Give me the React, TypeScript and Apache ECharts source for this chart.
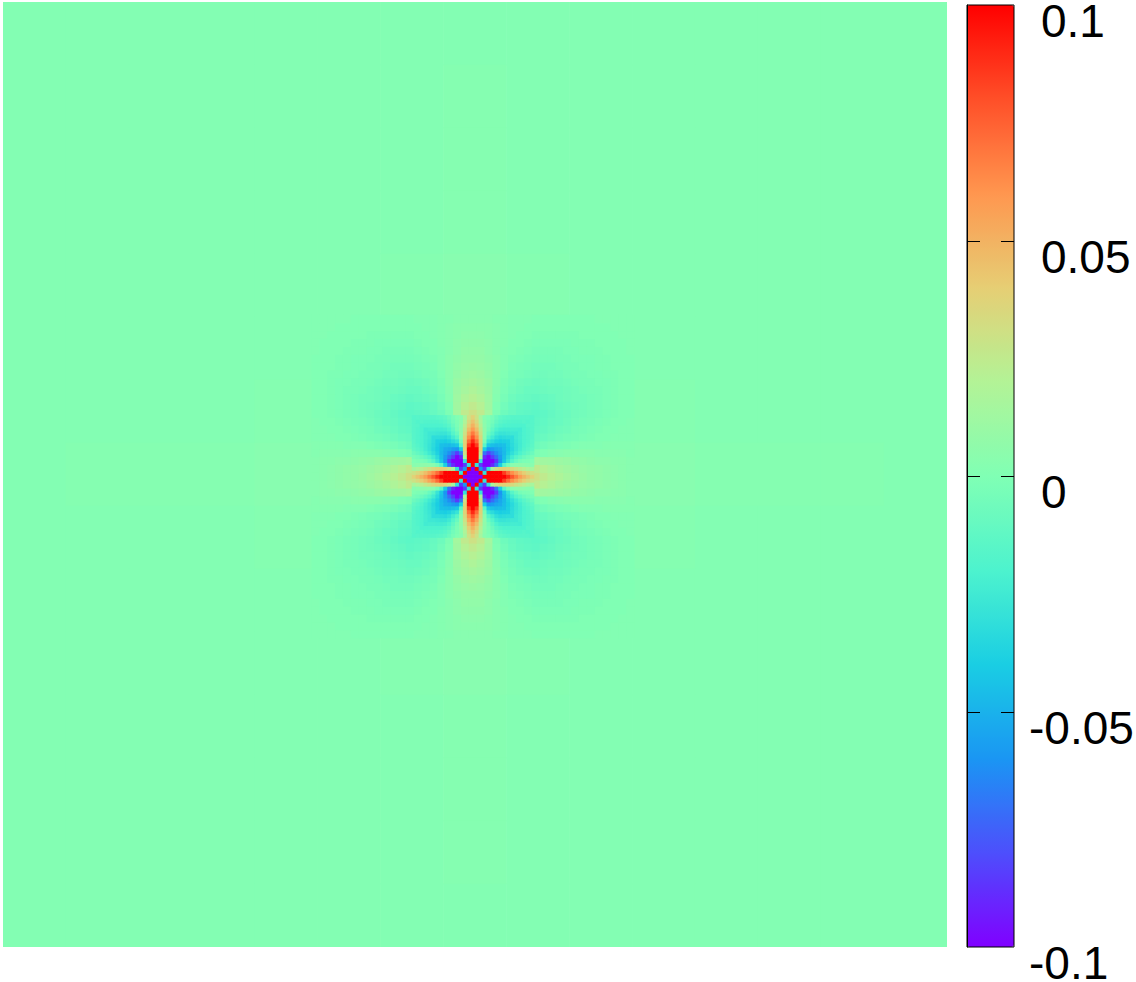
import React, { useEffect, useRef } from "react";
import * as echarts from "echarts";

const barTicks = [-0.1, -0.05, 0, 0.05, 0.1];
const palette = ["#8000ff","#4d4ffc","#1a96f3","#1acee3","#4df3ce","#80ffb4","#b3f396","#e6ce74","#ff964f","#ff4f28","#ff0000"];

// values in thousandths
const innerQuadrant = [
[-100,-100,-100,100,100,100,100,100,100,90,78,68,58,50,44,38],
[-100,-100,100,-30,100,100,100,100,85,72,62,54,46,40,34,30],
[-100,100,-60,-85,-30,15,30,38,40,38,34,30,26,22,18,15],
[100,-30,-85,-100,-100,-90,-70,-40,-15,-3,3,5,6,5,4,3],
[100,100,-30,-100,-100,-100,-85,-60,-42,-28,-16,-9,-4,-2,-1,0],
[100,100,15,-90,-100,-85,-72,-58,-45,-33,-24,-17,-12,-8,-5,-3],
[100,100,30,-70,-85,-72,-62,-54,-47,-38,-31,-25,-20,-15,-11,-8],
[100,100,38,-40,-60,-58,-54,-52,-46,-40,-34,-28,-23,-18,-15,-12],
[100,85,40,-15,-42,-45,-47,-46,-45,-39,-33,-28,-24,-20,-17,-14],
[90,72,38,-3,-28,-33,-38,-40,-39,-38,-32,-27,-24,-20,-18,-15],
[78,62,34,3,-16,-24,-31,-34,-33,-32,-32,-26,-23,-20,-18,-16],
[68,54,30,5,-9,-17,-25,-28,-28,-27,-26,-26,-23,-20,-18,-16],
[58,46,26,6,-4,-12,-20,-23,-24,-24,-23,-23,-24,-20,-18,-16],
[50,40,22,5,-2,-8,-15,-18,-20,-20,-20,-20,-20,-20,-17,-16],
[44,34,18,4,-1,-5,-11,-15,-17,-18,-18,-18,-18,-17,-18,-16],
[38,30,15,3,0,-3,-8,-12,-14,-15,-16,-16,-16,-16,-16,-17],
];
const midQuadrant = [
[0,0,0,0,0,0,0,0,30,25,21,18,15,12,10,8,7,6,5,4,3],
[0,0,0,0,0,0,0,0,25,21,18,15,13,11,9,8,7,6,5,4,3],
[0,0,0,0,0,0,0,0,14,13,12,11,10,8,7,6,5,5,4,4,3],
[0,0,0,0,0,0,0,0,-1,0,2,3,4,4,4,4,3,3,3,3,2],
[0,0,0,0,0,0,0,0,-7,-5,-3,-2,-1,0,1,1,1,2,2,2,2],
[0,0,0,0,0,0,0,0,-10,-9,-7,-5,-4,-3,-2,-1,0,0,1,1,1],
[0,0,0,0,0,0,0,0,-12,-11,-9,-7,-6,-4,-3,-2,-1,0,0,1,1],
[0,0,0,0,0,0,0,0,-13,-12,-10,-9,-7,-5,-4,-3,-2,-1,0,0,1],
[30,25,14,-1,-7,-10,-12,-13,-14,-13,-11,-9,-8,-6,-5,-4,-3,-2,-1,0,0],
[25,21,13,0,-5,-9,-11,-12,-13,-11,-10,-8,-7,-6,-5,-4,-3,-2,-1,0,0],
[21,18,12,2,-3,-7,-9,-10,-11,-10,-9,-7,-6,-5,-5,-4,-3,-2,-1,0,0],
[18,15,11,3,-2,-5,-7,-9,-9,-8,-7,-7,-6,-5,-4,-3,-3,-2,-1,0,0],
[15,13,10,4,-1,-4,-6,-7,-8,-7,-6,-6,-5,-4,-3,-3,-2,-2,-1,0,0],
[12,11,8,4,0,-3,-4,-5,-6,-6,-5,-5,-4,-3,-3,-2,-2,-1,-1,0,0],
[10,9,7,4,1,-2,-3,-4,-5,-5,-5,-4,-3,-3,-2,-2,-1,-1,0,0,0],
[8,8,6,4,1,-1,-2,-3,-4,-4,-4,-3,-3,-2,-2,-2,-1,-1,0,0,0],
[7,7,5,3,1,0,-1,-2,-3,-3,-3,-3,-2,-2,-1,-1,-1,0,0,0,1],
[6,6,5,3,2,0,0,-1,-2,-2,-2,-2,-2,-1,-1,-1,0,0,0,0,1],
[5,5,4,3,2,1,0,0,-1,-1,-1,-1,-1,-1,0,0,0,0,0,1,1],
[4,4,4,3,2,1,1,0,0,0,0,0,0,0,0,0,0,0,1,1,1],
[3,3,3,2,2,1,1,1,0,0,0,0,0,0,0,0,1,1,1,1,1],
];
const outerField = [
[1,1,1,1,1,1,1,1,1,1,1,1,1,1,1],
[1,1,1,1,1,1,1,2,1,1,1,1,1,1,1],
[1,1,1,1,1,1,1,2,1,1,1,1,1,1,1],
[1,1,1,1,1,1,1,2,1,1,1,1,1,1,1],
[1,1,1,1,1,1,2,3,2,1,1,1,1,1,1],
[1,1,1,1,1,1,1,3,1,1,1,1,1,1,1],
[1,1,1,1,2,1,1,3,1,1,2,1,1,1,1],
[1,2,2,2,3,3,3,1,3,3,3,2,2,2,1],
[1,1,1,1,2,1,1,3,1,1,2,1,1,1,1],
[1,1,1,1,1,1,1,3,1,1,1,1,1,1,1],
[1,1,1,1,1,1,2,3,2,1,1,1,1,1,1],
[1,1,1,1,1,1,1,2,1,1,1,1,1,1,1],
[1,1,1,1,1,1,1,2,1,1,1,1,1,1,1],
[1,1,1,1,1,1,1,2,1,1,1,1,1,1,1],
[1,1,1,1,1,1,1,1,1,1,1,1,1,1,1],
];

const CELLS = 240;
const CENTER = 119.5;

function buildCells() {
  const out: number[][] = [];
  outerField.forEach((row, r) => row.forEach((v, c) => out.push([c * 16, (14 - r) * 16, 16, v / 1000])));
  const mirror = (table: number[][], span: number) => {
    const n = table.length - 1;
    for (let r = -n; r <= n; r++) {
      for (let c = -n; c <= n; c++) {
        const v = table[Math.abs(r)][Math.abs(c)];
        out.push([CENTER + c * span - span / 2, CENTER + r * span - span / 2, span, v / 1000]);
      }
    }
  };
  mirror(midQuadrant, 2);
  mirror(innerQuadrant, 1);
  return out;
}

export default function App() {
  const ref = useRef<HTMLDivElement>(null);
  useEffect(() => {
    document.body.style.margin = "0";
    document.body.style.overflow = "hidden";
    const chart = echarts.init(ref.current!, undefined, { renderer: "svg" });
    const font = "'Liberation Sans', Arial, sans-serif";
    chart.setOption({
      animation: false,
      backgroundColor: "#ffffff",
      grid: [
        { left: 3, top: 2, width: 944, height: 945, outerBoundsMode: "none" },
        { left: 967, top: 5, width: 47, height: 942, show: true, borderColor: "#000", borderWidth: 1, backgroundColor: "transparent", z: 5, outerBoundsMode: "none" },
      ],
      xAxis: [
        { type: "value", gridIndex: 0, min: 0, max: CELLS, show: false },
        { type: "value", gridIndex: 1, min: 0, max: 47, show: false },
      ],
      yAxis: [
        { type: "value", gridIndex: 0, min: 0, max: CELLS, show: false },
        {
          type: "value", gridIndex: 1, position: "right", min: -0.1, max: 0.1, interval: 0.05, z: 6,
          splitLine: { show: false },
          axisLine: { show: true, lineStyle: { color: "#000", width: 1 } },
          axisTick: { show: false },
          axisLabel: {
            margin: 15, align: "left", verticalAlign: "top", interval: 0,
            customValues: barTicks,
            formatter: (v: number) => {
              const s = String(Math.round(v * 100) / 100);
              return v < 0 ? `{n|${s}}` : `{p|${s}}`;
            },
            rich: {
              n: { fontFamily: font, fontSize: 46, color: "#000", lineHeight: 32 },
              p: { fontFamily: font, fontSize: 46, color: "#000", lineHeight: 32, padding: [0, 0, 0, 12] },
            },
          },
        },
      ],
      visualMap: {
        type: "continuous", min: -0.1, max: 0.1, seriesIndex: 0, dimension: 3,
        left: 967, top: 5, itemWidth: 47, itemHeight: 942, padding: 0,
        calculable: false, realtime: false, hoverLink: false, showLabel: false, text: null, z: 1,
        textStyle: { fontSize: 0 },
        inRange: { color: palette },
      },
      series: [
        {
          type: "custom", coordinateSystem: "cartesian2d", xAxisIndex: 0, yAxisIndex: 0, clip: true,
          silent: true,
          encode: { x: 0, y: 1 },
          data: buildCells(),
          renderItem: (_p: any, api: any) => {
            const a = api.coord([api.value(0), api.value(1)]);
            const b = api.coord([api.value(0) + api.value(2), api.value(1) + api.value(2)]);
            return {
              type: "rect",
              shape: { x: a[0] - 0.3, y: b[1] - 0.3, width: b[0] - a[0] + 0.6, height: a[1] - b[1] + 0.6 },
              style: { fill: api.visual("color") },
            };
          },
        },
        {
          type: "custom", coordinateSystem: "cartesian2d", xAxisIndex: 1, yAxisIndex: 1, z: 10,
          silent: true,
          encode: { y: 0 },
          data: barTicks.slice(1, -1).map((t) => [t]),
          renderItem: (_p: any, api: any) => {
            const y = Math.round(api.coord([0, api.value(0)])[1]) + 0.5;
            const xl = api.coord([0, 0])[0];
            const xr = api.coord([47, 0])[0];
            const line = (x1: number, x2: number) => ({
              type: "line",
              shape: { x1, y1: y, x2, y2: y },
              style: { stroke: "#000", lineWidth: 1 },
            });
            return { type: "group", children: [line(xl, xl + 13), line(xr - 13, xr)] };
          },
        },
      ],
    });
    return () => chart.dispose();
  }, []);
  return <div ref={ref} style={{ width: 1136, height: 982 }} />;
}
